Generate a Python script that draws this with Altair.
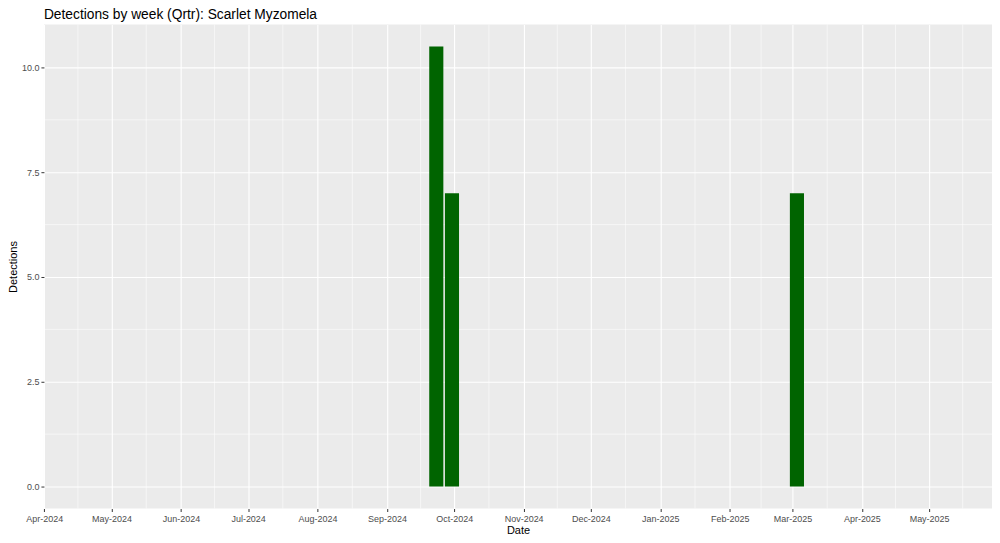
import altair as alt
import pandas as pd

# ---- data ----
weeks = ["2024-09-23", "2024-09-30", "2025-03-03"]
detections = [10.5, 7, 7]

month_ticks = ["2024-04-01", "2024-05-01", "2024-06-01", "2024-07-01", "2024-08-01",
               "2024-09-01", "2024-10-01", "2024-11-01", "2024-12-01", "2025-01-01",
               "2025-02-01", "2025-03-01", "2025-04-01", "2025-05-01"]
y_ticks = [0, 2.5, 5, 7.5, 10]
y_minor = [1.25, 3.75, 6.25, 8.75]
x_domain = ["2024-03-31T20:00:00", "2025-05-29T02:00:00"]
y_domain = [-0.525, 11.025]

DAY = 86400000


def ms(s):
    return int(pd.Timestamp(s, tz="UTC").value // 10**6)


half_width = 0.45 * 7 * DAY  # ggplot default bar width 0.9 of a week

bars_df = pd.DataFrame({
    "week": [ms(w) for w in weeks],
    "detections": detections,
})
bars_df["start"] = bars_df["week"] - half_width
bars_df["end"] = bars_df["week"] + half_width

tick_ms = [ms(t) for t in month_ticks]
ext = [tick_ms[0] - (tick_ms[1] - tick_ms[0])] + tick_ms + [tick_ms[-1] + (tick_ms[-1] - tick_ms[-2])]
dom_ms = [ms(d) for d in x_domain]
x_minor = [(a + b) / 2 for a, b in zip(ext[:-1], ext[1:])]
x_minor = [v for v in x_minor if dom_ms[0] <= v <= dom_ms[1]]

xminor_df = pd.DataFrame({"t": x_minor})
yminor_df = pd.DataFrame({"v": y_minor})

FONT = "Liberation Sans"

xscale = alt.Scale(type="utc", domain=dom_ms, nice=False)
yscale = alt.Scale(domain=y_domain, nice=False, zero=False)

xaxis = alt.Axis(
    values=[alt.DateTime(year=int(t[:4]), month=int(t[5:7]), date=1, utc=True) for t in month_ticks],
    format="%b-%Y", title="Date", grid=True, gridColor="white", gridWidth=1.1,
    domain=False, tickColor="#333333", tickSize=3, tickWidth=1,
    labelColor="#4D4D4D", labelFont=FONT, labelFontSize=9, labelPadding=3,
    labelOverlap=False, labelFlush=False,
    titleFont=FONT, titleFontSize=11, titleFontWeight="normal", titleColor="black",
    titlePadding=1,
)
yaxis = alt.Axis(
    values=y_ticks, format=".1f", title="Detections", grid=True, gridColor="white",
    gridWidth=1.1, domain=False, tickColor="#333333", tickSize=3, tickWidth=1,
    labelColor="#4D4D4D", labelFont=FONT, labelFontSize=9, labelPadding=2,
    titleFont=FONT, titleFontSize=11, titleFontWeight="normal", titleColor="black",
    titlePadding=3,
)

xminor = alt.Chart(xminor_df).mark_rule(color="white", strokeWidth=0.55).encode(
    x=alt.X("t:T", scale=xscale, axis=xaxis)
)
yminor = alt.Chart(yminor_df).mark_rule(color="white", strokeWidth=0.55).encode(
    y=alt.Y("v:Q", scale=yscale, axis=yaxis)
)
bars = alt.Chart(bars_df).mark_bar(color="#006400").encode(
    x=alt.X("start:T", scale=xscale, axis=xaxis),
    x2="end:T",
    y=alt.Y("detections:Q", scale=yscale, axis=yaxis),
    y2=alt.datum(0),
)

chart = alt.layer(xminor, yminor, bars).properties(
    width=950,
    height=485,
    title=alt.TitleParams(
        "Detections by week (Qrtr): Scarlet Myzomela",
        anchor="start", frame="group", font=FONT, fontSize=13.8,
        fontWeight="normal", color="black", offset=2,
    ),
    autosize=alt.AutoSizeParams(type="none"),
    padding={"left": 36, "top": 16, "right": 0, "bottom": 26},
).configure_view(
    fill="#EBEBEB", strokeWidth=0
)

chart.save("out.html", embed_options={"renderer": "svg", "actions": False})
